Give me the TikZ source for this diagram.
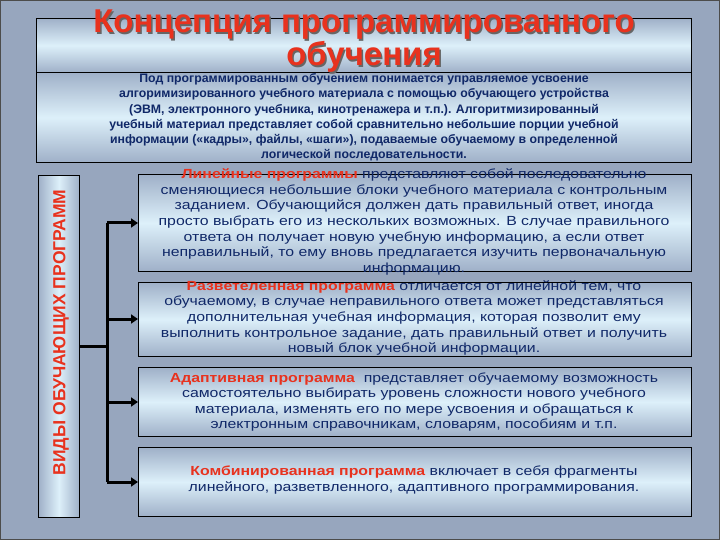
\documentclass[tikz,border=0pt]{standalone}
\usepackage{fontspec}
\setmainfont{Liberation Sans}
\newfontfamily\widefont[FakeStretch=1.2]{Liberation Sans}
\definecolor{bg}{HTML}{97A6BE}
\definecolor{boxedge}{HTML}{9FB0C8}
\definecolor{boxmid}{HTML}{DDF0FA}
\definecolor{ttl}{HTML}{E8321E}
\definecolor{txt}{HTML}{102868}
\tikzset{
  panel/.style={draw=black, line width=0.8pt, top color=boxedge, bottom color=boxedge, middle color=boxmid, rounded corners=0pt},
  body/.style={text=txt, font=\widefont\fontsize{13.2}{15.6}\selectfont, align=center},
  arr/.style={line width=3pt, -{Triangle[length=7pt,width=9pt]}}
}
\usetikzlibrary{arrows.meta,calc}
\begin{document}
\begin{tikzpicture}[x=1pt,y=-1pt]
\fill[bg] (0,0) rectangle (720,540);
\draw[line width=1pt, black!70] (0.5,0.5) rectangle (719.5,539.5);
% title and intro
\node[panel, minimum width=655, minimum height=54, anchor=north west] (title) at (36,18) {};
\node[panel, minimum width=655, minimum height=90, anchor=north west] (intro) at (36,72) {};
\node[text=txt, font=\bfseries\fontsize{12.3}{15.2}\selectfont, align=center] (itxt) at (364,117.5) {Под программированным обучением понимается управляемое усвоение\\алгоримизированного учебного материала с помощью обучающего устройства\\(ЭВМ, электронного учебника, кинотренажера и т.п.). Алгоритмизированный\\учебный материал представляет собой сравнительно небольшие порции учебной\\информации («кадры», файлы, «шаги»), подаваемые обучаемому в определенной\\логической последовательности.};
\node[text=black!60, font=\bfseries\fontsize{33}{33}\selectfont, align=center] at (365.5,43) {Концепция программированного\\обучения};
\node[text=ttl, font=\bfseries\fontsize{33}{33}\selectfont, align=center] (ttxt) at (364,41.5) {Концепция программированного\\обучения};
% vertical box
\node[draw=black, line width=0.8pt, left color=boxedge, right color=boxedge, middle color=boxmid, minimum width=41, minimum height=342, anchor=north west] (vert) at (38,175) {};
\node[rotate=90, text=ttl, font=\bfseries\fontsize{17.5}{15}\selectfont] (vtxt) at ($(vert.center)+(2,-14)$) {ВИДЫ ОБУЧАЮЩИХ ПРОГРАММ};
% boxes
\node[panel, minimum width=553, minimum height=97, anchor=north west] (b1) at (138,174) {};
\node[panel, minimum width=553, minimum height=74, anchor=north west] (b2) at (138,282) {};
\node[panel, minimum width=553, minimum height=69, anchor=north west] (b3) at (138,367) {};
\node[panel, minimum width=553, minimum height=69, anchor=north west] (b4) at (138,447) {};
\node[body] (t1) at (414,222) {\textcolor{ttl}{\bfseries Линейные программы} представляют собой последовательно\\сменяющиеся небольшие блоки учебного материала с контрольным\\заданием. Обучающийся должен дать правильный ответ, иногда\\просто выбрать его из нескольких возможных. В случае правильного\\ответа он получает новую учебную информацию, а если ответ\\неправильный, то ему вновь предлагается изучить первоначальную\\информацию.};
\node[body] (t2) at (414,318) {\textcolor{ttl}{\bfseries Разветеленная программа} отличается от линейной тем, что\\обучаемому, в случае неправильного ответа может представляться\\дополнительная учебная информация, которая позволит ему\\выполнить контрольное задание, дать правильный ответ и получить\\новый блок учебной информации.};
\node[body] (t3) at (414,402) {\textcolor{ttl}{\bfseries Адаптивная программа}\ \ представляет обучаемому возможность\\самостоятельно выбирать уровень сложности нового учебного\\материала, изменять его по мере усвоения и обращаться к\\электронным справочникам, словарям, пособиям и т.п.};
\node[body] (t4) at (414,480) {\textcolor{ttl}{\bfseries Комбинированная программа} включает в себя фрагменты\\линейного, разветвленного, адаптивного программирования.};
% connectors
\coordinate (j) at (107,346);
\coordinate (jt) at (107,223);
\coordinate (jb) at (107,482);
\draw[line width=3pt] (vert.east |- j) -- (j);
\draw[line width=3pt] (jt) -- (jb);
\draw[arr] (jt) -- (b1.west |- jt);
\draw[arr] (107,319) -- (b2.west |- 107,319);
\draw[arr] (107,402) -- (b3.west |- 107,402);
\draw[arr] (jb) -- (b4.west |- jb);
\end{tikzpicture}
\end{document}
